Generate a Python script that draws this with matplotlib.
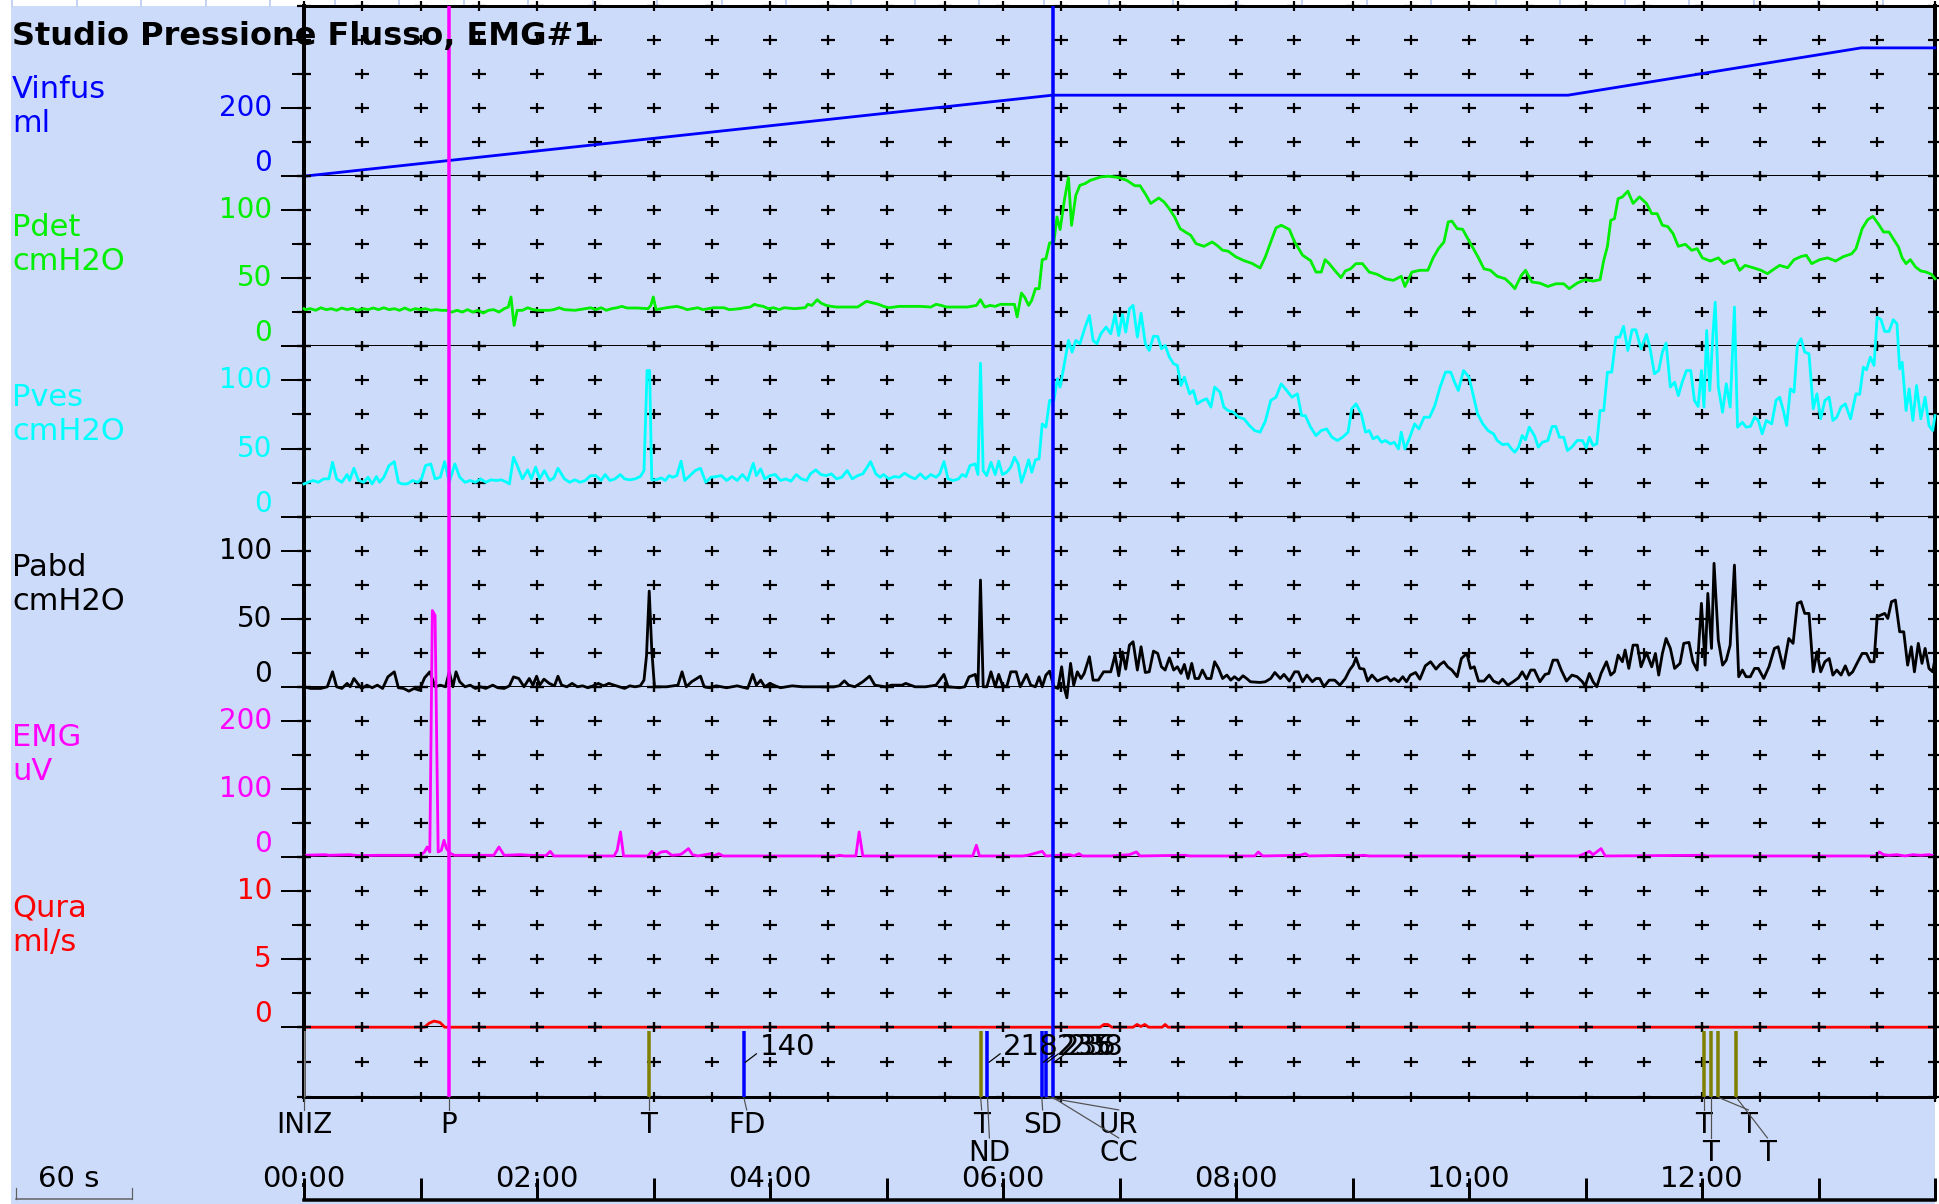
import numpy as np
import matplotlib
matplotlib.use("Agg")
import matplotlib.pyplot as plt
from matplotlib.path import Path
from matplotlib.patches import Rectangle
from matplotlib.lines import Line2D
import matplotlib.transforms as mtransforms

plt.rcParams['font.family'] = ['DejaVu Sans']

# ------------------------------------------------------------------ data
TITLE = "Studio Pressione Flusso, EMG#1"
CH_NAMES = ["Vinfus", "Pdet", "Pves", "Pabd", "EMG", "Qura"]
CH_UNITS = ["ml", "cmH2O", "cmH2O", "cmH2O", "uV", "ml/s"]
CH_COLORS = ['#0000FF', '#00EE00', '#00FFFF', '#000000', '#FF00FF', '#FF0000']
CH_YMAX = [500, 125, 125, 125, 250, 12.5]
CH_LABELED = [[0, 200], [0, 50, 100], [0, 50, 100], [0, 50, 100], [0, 100, 200], [0, 5, 10]]
CH_MINOR = [[100, 300, 400], [25, 75], [25, 75], [25, 75], [50, 150], [2.5, 7.5]]

VINF_T = [0, 385.5, 651, 802, 840]
VINF_V = [0, 238, 238, 377, 377]

PDET = [(0,27.7),(0.6,27.0),(3.3,27.7),(6.0,26.5),(8.7,28.4),(11.4,27.0),(14.1,27.7),(16.8,26.5),(19.5,28.2),(22.2,27.0),
(24.9,27.9),(27.6,26.5),(30.3,27.7),(33.0,27.0),(35.7,28.2),(38.4,27.0),(41.1,28.4),(43.8,27.0),(46.5,27.7),(49.2,26.5),
(51.9,28.2),(54.6,26.5),(57.3,27.7),(60.0,27.0),(62.6,27.7),(65.3,26.5),(68.0,27.0),(70.7,26.5),(73.4,26.5),(76.1,25.2),
(78.8,26.5),(81.5,25.2),(84.2,27.0),(86.9,25.2),(89.6,26.5),(92.3,24.5),(95.0,26.5),(97.7,27.0),(100.4,25.2),(103.1,27.7),
(105.2,28.9),(106.6,36.3),(108.2,15.4),(109.8,26.5),(112.5,26.5),(115.2,28.4),(117.9,27.0),(120.6,26.5),(126.0,26.5),
(128.7,27.0),(131.4,28.4),(134.1,27.0),(139.5,26.5),(144.9,27.7),(147.6,28.4),(150.3,27.0),(153.0,28.4),(155.7,26.5),
(158.4,27.7),(161.1,28.4),(163.7,29.4),(166.4,28.2),(171.8,28.2),(177.2,27.7),(178.6,30.1),(179.9,36.3),(181.3,27.0),
(186.7,28.4),(189.4,28.9),(192.0,29.4),(194.7,28.4),(197.4,27.0),(200.1,27.7),(202.8,28.4),(205.5,27.0),(210.9,28.4),
(216.3,28.4),(219.0,27.0),(224.4,27.7),(227.1,28.4),(229.8,28.9),(232.0,30.9),(233.8,30.1),(236.5,29.4),(239.2,27.7),
(241.9,28.4),(244.6,27.0),(247.3,28.4),(252.7,27.7),(258.1,28.4),(259.5,30.9),(261.6,30.1),(264.3,34.3),(266.2,31.9),
(268.9,30.1),(271.6,29.4),(274.3,28.9),(279.7,28.9),(285.1,28.9),(287.8,31.4),(289.7,33.1),(293.2,31.9),(295.9,30.9),
(298.5,29.4),(301.2,28.4),(303.9,28.9),(306.6,29.4),(312.0,29.4),(317.4,29.4),(322.8,28.9),(325.5,30.9),(328.2,30.1),
(330.9,28.9),(336.3,28.9),(341.7,28.9),(346.3,30.1),(348.4,34.3),(350.6,28.9),(353.3,30.1),(356.0,29.4),(358.7,30.9),
(364.0,30.9),(365.9,30.9),(367.3,21.6),(369.5,39.2),(371.3,35.8),(373.2,30.1),(374.8,33.8),(376.7,42.4),(378.6,42.4),
(380.2,63.7),(382.1,64.4),(384.0,76.0),(386.2,76.7),(387.8,95.1),(389.4,85.8),(391.6,107.3),(393.7,124.0),(395.3,88.9),
(397.5,111.0),(399.6,118.3),(402.3,119.6),(405.0,122.0),(407.7,123.2),(410.4,124.5),(414.5,125.0),
(419.6,124),(423.7,122),(427.9,118),(430.6,118),(433.3,112),(436.1,105),(440.2,109),(443.0,106),(445.7,101),(448.4,95),
(451.2,86.5),(453.9,84),(456.7,81.6),(459.4,75.5),(463.5,73.5),(467.7,76.7),(470.4,74),(473.1,70.6),(475.9,70),(480.0,65.7),
(484.1,63),(488.2,61),(492.4,57.6),(495.1,65.7),(497.9,76.7),(500.6,87),(503.3,89),(507.5,85.8),(510.2,76.7),(514.3,67),
(518.4,63),(521.2,54.6),(523.9,54.6),(525.9,63.7),(528.0,60.8),(530.8,55.9),(534.1,50.5),(536.3,55.4),(539.0,57),
(541.8,60.8),(545.1,60.8),(548.6,54.6),(552.8,52.9),(556.9,49.7),(561.0,48.5),(565.1,51.5),(567.0,44),(570.6,54.6),
(574.7,55.9),(578.8,55.9),(581.6,65.2),(584.3,71.8),(587.1,76.7),(589.3,91.4),(591.2,92),(593.9,86.5),(596.7,86),
(600.8,75.5),(604.9,65),(607.7,57),(611.0,55.9),(614.5,51.5),(618.6,49.7),(621.4,46),(623.6,42.4),(626.9,52),(629.1,55.9),
(632.4,47.3),(636.5,46.5),(640.6,44),(644.7,46),(648.8,46),(651.6,42.4),(655.7,46.5),(659.8,49),(663.9,48),(667.5,49),
(669.4,63.2),(671.3,73.5),(673.0,92.6),(674.9,93.8),(676.8,108.5),(679.0,109.8),(681.8,114),(684.5,105),(687.8,109.8),
(691.4,105),(694.1,97.5),(696.9,97.5),(699.6,89),(702.4,88),(705.1,82.8),(707.8,73.5),(711.4,75),(714.7,70.6),(717.5,71.8),
(720.2,65),(724.3,62.7),(728.4,65),(731.2,60.8),(733.9,62.7),(736.7,63.7),(739.4,55.9),(742.2,59.5),(746.3,57.8),
(750.4,55.9),(753.7,53.4),(757.3,57),(760.0,59.5),(764.1,57.8),(767.4,63.7),(771.0,66),(773.7,66.9),(776.5,60.8),
(780.6,63.7),(784.7,65),(788.8,62.7),(792.9,66),(797.1,68),(799.3,71.8),(802.5,86.5),(805.3,93),(808.0,95.5),(810.8,90),
(813.5,84),(816.3,84),(819.0,77.9),(821.2,73),(823.1,65),(825.1,60.8),(827.3,63.7),(830.0,58.3),(832.7,55.4),(835.5,54.6),
(838.2,52.9),(840.0,49.7)]

PVES = [(0,24.0),(2.0,25.2),(4.7,26.5),(7.4,25.2),(10.1,27.7),(12.8,27.7),(14.7,39.9),(16.8,27.7),(19.5,25.2),(22.2,30.9),
(23.5,26.5),(25.7,35.5),(28.1,26.5),(30.8,25.2),(33.0,28.9),(35.1,24.0),(37.3,29.4),(38.9,25.2),(41.1,28.9),(43.8,37.5),
(46.5,40.4),(48.6,25.2),(50.5,24.0),(53.2,24.0),(55.9,26.5),(58.6,25.2),(60.5,27.7),(62.6,37.5),(65.3,38.7),(67.5,27.7),
(70.2,28.9),(72.4,40.4),(74.8,25.2),(77.7,38.7),(80.2,28.9),(82.9,25.2),(85.6,26.5),(88.3,25.2),(91.0,27.7),(93.6,25.2),
(96.3,27.0),(99.0,26.5),(101.7,27.0),(104.4,25.2),(105.8,24.0),(107.9,43.6),(109.8,37.5),(112.5,27.7),(115.2,34.3),
(117.1,27.7),(119.3,36.3),(121.4,27.7),(123.8,33.8),(126.5,26.5),(128.7,28.4),(130.8,35.5),(134.1,27.7),(136.8,25.2),
(139.5,27.0),(142.2,25.2),(144.9,26.5),(147.6,30.1),(150.3,30.1),(153.0,26.5),(155.1,30.9),(157.5,26.5),(160.2,27.7),
(162.9,30.9),(165.1,27.7),(167.8,27.0),(170.5,27.7),(173.2,29.4),(175.1,33.8),(176.7,107.3),(178.0,107.3),(179.1,27.0),
(181.3,27.0),(184.0,28.4),(186.1,26.5),(188.0,30.1),(189.9,28.9),(192.0,30.1),(194.2,40.7),(196.1,26.5),(198.8,30.1),
(201.5,33.8),(204.2,35.5),(206.9,25.2),(209.6,28.9),(212.3,29.4),(215.0,30.1),(217.7,26.5),(220.4,29.4),(223.1,26.5),
(225.8,30.9),(228.5,26.5),(229.8,32.6),(231.4,39.2),(233.0,30.1),(235.2,35.0),(237.3,27.7),(240.0,30.1),(242.7,30.9),
(245.4,26.5),(248.1,27.7),(250.8,26.0),(253.5,30.9),(256.2,27.7),(258.9,26.5),(260.8,31.4),(263.5,34.3),(266.2,30.9),
(268.9,30.1),(271.6,31.4),(274.3,27.7),(277.0,28.9),(279.7,33.8),(282.4,27.7),(285.1,30.1),(287.8,31.4),(289.7,35.5),
(291.8,40.4),(294.5,31.4),(296.7,28.9),(298.5,30.9),(301.2,27.7),(303.9,29.4),(306.6,28.9),(309.3,31.9),(312.0,29.4),
(314.7,27.7),(317.4,31.4),(320.1,27.7),(322.8,30.9),(325.5,28.9),(327.4,31.4),(329.6,40.4),(331.7,27.7),(334.4,26.5),
(337.1,27.7),(339.0,30.9),(340.9,29.4),(343.0,37.5),(345.7,38.7),(347.1,30.9),(348.4,112.7),(349.8,33.8),(351.6,30.1),
(353.8,39.9),(356.0,30.9),(357.8,40.7),(359.7,30.9),(361.9,32.6),(364.0,36.3),(365.9,43.6),(367.8,38.7),(369.5,25.2),
(371.3,32.6),(373.2,41.7),(374.8,32.6),(376.7,41.7),(378.6,42.4),(380.2,68.1),(382.1,65.7),(384.0,85.3),(386.2,85.3),
(388.0,101.2),(389.4,95.1),(391.6,112.2),(393.7,129.4),(395.6,120.8),(397.5,129.4),(399.6,126.9),(402.3,139.2),
(404.5,147.7),(406.4,129.4),(408.3,126.9),(410.4,134.3),(413.1,139.2),
(415.5,134.3),(417.7,148.5),(419.6,133.0),(421.5,148.5),(423.2,135.5),(425.1,152.6),(427.0,155.1),(429.2,131.8),
(431.1,149.5),(433.3,126.9),(435.3,122.0),(437.5,132.5),(439.7,132.3),(441.6,123.2),(443.5,125.7),(445.7,117.1),
(447.9,112.2),(449.8,111.0),(451.7,96.3),(453.4,102.4),(456.1,90.2),(458.0,92.6),(460.0,82.8),(462.7,85.3),(464.9,86.5),
(467.1,80.4),(469.0,95.1),(471.8,91.4),(473.7,80.4),(475.9,77.9),(478.6,76.7),(481.4,73.0),(484.1,71.8),(486.9,66.9),
(489.6,63.2),(492.4,62.0),(495.1,70.1),(497.9,85.3),(500.6,87.7),(503.3,97.5),(506.1,92.6),(508.8,87.7),(511.6,90.2),
(513.8,74.2),(515.7,74.2),(518.4,65.7),(521.2,59.5),(523.9,63.2),(526.7,64.4),(529.4,58.3),(532.2,55.9),(534.9,58.3),
(537.7,62.0),(539.6,79.1),(541.8,82.8),(544.5,75.5),(546.7,62.0),(548.6,63.2),(550.6,57.1),(552.8,58.8),(555.0,54.6),
(556.9,55.9),(559.6,53.4),(561.5,54.6),(563.7,49.7),(565.1,62.0),(567.0,49.7),(569.2,57.1),(572.0,68.1),(574.2,64.4),
(576.9,73.0),(579.7,73.0),(582.4,81.6),(585.1,95.1),(587.9,106.1),(590.6,106.1),(592.6,98.7),(594.5,92.6),(597.2,107.3),
(600.0,102.4),(602.2,88.9),(604.4,75.5),(607.1,68.1),(609.8,63.2),(612.6,60.8),(614.5,55.9),(617.3,52.9),(620.0,53.4),
(621.9,49.7),(623.6,47.3),(625.5,51.0),(627.4,59.5),(629.1,56.4),(631.0,65.7),(633.7,59.5),(635.7,51.0),(637.8,54.6),
(640.6,55.9),(642.8,66.2),(644.7,66.2),(646.6,58.3),(648.8,58.3),(650.7,48.5),(652.9,51.0),(655.7,55.9),(658.4,55.9),
(660.4,50.5),(662.0,58.3),(663.9,52.2),(665.8,53.4),(667.5,77.9),(669.4,77.9),(671.3,106.1),(673.5,106.1),(675.7,131.8),
(677.6,131.8),(679.6,139.7),(681.8,122.0),(684.0,137.2),(685.9,137.2),(688.6,123.2),(691.4,133.8),(693.3,123.2),
(695.5,104.9),(697.7,107.3),(699.6,120.8),(701.5,127.4),(703.7,95.1),(705.9,98.7),(707.8,88.9),(709.8,98.7),(712.0,107.3),
(714.2,107.3),(716.1,85.3),(718.0,80.9),(719.7,107.3),(721.0,80.4),(722.4,136.7),(724.0,92.6),(725.7,135.5),(726.8,157.5),
(728.4,95.1),(730.6,76.7),(732.5,97.5),(734.5,80.4),(736.7,153.9),(738.3,65.7),(740.8,69.3),(742.7,65.7),(744.9,66.2),
(747.1,73.0),(749.0,70.6),(751.0,60.8),(753.1,70.6),(755.9,68.1),(758.1,85.3),(760.0,87.7),(761.9,77.9),(763.6,66.9),
(765.5,93.8),(767.4,91.4),(769.1,125.7),(771.0,130.6),(772.9,120.8),(775.1,119.6),(777.3,79.1),(779.2,90.2),(781.1,71.8),
(783.3,85.3),(785.5,87.7),(787.4,70.6),(789.4,73.0),(791.6,80.4),(793.8,82.8),(796.5,71.8),(799.3,90.2),(801.2,89.7),
(803.1,109.8),(804.7,107.8),(806.7,117.1),(808.6,111.0),(810.2,146.5),(812.2,144.6),(814.1,136.0),(816.3,136.0),
(818.5,144.6),(820.4,141.6),(821.8,108.5),(823.1,113.4),(825.1,77.9),(826.7,93.8),(828.6,70.6),(830.5,96.3),(832.7,71.8),
(834.9,87.7),(836.9,66.9),(838.8,63.2),(840.0,74.2)]

PABD = [(0,0),(3.3,-1.2),(8.7,-1.2),(12.0,0),(14.7,11.0),(16.8,0),(19.5,-1.2),(22.2,2.5),(23.8,0),(25.7,6.1),(27.6,2.5),
(29.7,-1.2),(32.4,1.2),(35.1,-0.7),(37.8,1.2),(40.5,-1.2),(43.2,7.3),(46.5,11.0),(48.6,-0.7),(51.3,-1.2),(54.0,-3.2),
(56.7,-1.2),(59.4,-2.5),(62.1,6.6),(64.8,11.0),(67.5,0),(70.2,1.2),(72.9,0),(74.8,11.0),(76.7,0),(78.3,11.0),(80.2,3.7),
(82.9,0),(85.6,1.2),(88.3,-1.2),(91.0,0),(93.6,-1.2),(97.2,1.2),(99.8,-0.7),(103.1,-1.2),(105.8,0.7),(107.9,7.3),
(110.6,6.1),(113.3,0),(116.0,6.1),(117.9,1.2),(119.8,7.8),(121.4,1.2),(123.6,5.6),(126.3,2.5),(129.0,0.7),(130.8,7.8),
(132.7,1.2),(135.4,0),(138.1,2.5),(140.8,0),(143.5,0.7),(146.2,-0.7),(148.9,0.7),(151.6,2.5),(154.3,0.7),(157.0,2.5),
(159.7,1.2),(162.4,0),(165.1,-1.2),(167.8,0.7),(170.5,0),(173.2,0.7),(175.1,4.9),(176.4,22.8),(177.8,70.3),(179.1,27.0),
(180.5,0),(186.7,0),(192.6,1.2),(194.7,11.0),(196.9,0),(199.6,3.7),(204.2,7.8),(206.1,0),(208.8,-0.7),(212.3,0.7),
(217.7,-0.7),(223.1,0.7),(228.5,-1.2),(231.1,9.1),(233.0,1.2),(235.2,4.9),(237.3,0),(240.0,2.5),(242.7,0.7),(245.4,-0.7),
(251.4,0.7),(256.8,0),(262.1,0),(267.5,0),(272.9,0),(275.6,0.7),(278.3,4.4),(280.5,1.2),(283.7,0),(287.8,3.7),(291.3,7.8),
(294.0,1.2),(299.4,0),(302.6,1.2),(308.0,1.2),(309.9,2.5),(314.7,0),(320.1,0),(325.5,1.2),(327.4,4.9),(329.6,9.1),
(331.7,0),(337.6,-0.7),(340.3,0),(342.5,7.3),(345.7,9.1),(347.1,0),(348.4,78.4),(349.8,0),(351.7,0),(353.8,11.0),(356.0,0),
(357.8,9.1),(359.7,1.2),(361.9,0),(364.0,11.0),(366.8,11.0),(368.9,0),(372.1,9.1),(374.3,1.2),(376.7,0),(378.6,7.3),
(380.2,0),(382.1,8.6),(384.0,11.5),(386.2,0),(388.3,-1.2),(390.2,14.7),(391.6,-1.2),(392.9,-8.1),(394.8,17.2),(396.4,1.2),
(398.3,11.0),(400.2,6.1),(401.8,9.8),(404.5,22.1),(406.4,4.9),(409.1,4.9),(411.8,11.0),
(415.5,11.0),(417.7,23.3),(419.6,8.1),(421.5,25.7),(423.2,13.0),(425.1,30.6),(427.0,33.1),(429.2,12.3),(431.1,29.4),
(433.3,10.5),(435.3,11.0),(437.5,26.2),(439.7,24.5),(441.6,14.7),(443.5,12.3),(445.7,21.3),(447.9,12.3),(449.8,14.7),
(451.7,9.8),(453.4,16.4),(455.3,6.1),(457.2,17.2),(458.9,6.1),(460.8,6.1),(462.7,12.3),(464.9,6.1),(467.1,6.1),(469.0,18.4),
(471.0,13.5),(473.1,6.1),(475.3,8.6),(477.3,4.9),(479.2,7.4),(481.4,4.9),(483.6,8.1),(485.5,6.1),(487.4,3.7),(492.4,3.2),
(495.1,3.7),(497.9,6.1),(500.0,10.5),(502.8,6.1),(504.7,9.1),(507.5,4.2),(510.2,11.0),(512.1,11.0),(514.3,3.7),(516.5,8.6),
(519.3,3.7),(521.2,6.1),(523.1,6.1),(525.3,0),(528.0,4.9),(530.8,4.9),(533.5,1.2),(536.3,6.1),(538.5,12.3),(540.4,16.0),
(541.8,21.3),(543.7,13.5),(545.9,13.0),(547.8,4.2),(550.0,8.6),(552.8,4.2),(555.5,6.1),(557.7,7.4),(559.6,4.2),(561.5,6.1),
(563.7,3.7),(565.9,7.4),(567.8,3.7),(569.8,8.6),(572.5,10.5),(574.7,5.6),(577.5,15.4),(580.2,18.4),(583.0,13.0),(585.1,16.4),
(587.1,18.4),(589.0,14.7),(591.2,12.3),(593.9,7.4),(596.1,20.8),(598.9,24.5),(600.8,13.5),(602.7,14.7),(604.9,4.2),
(607.7,4.2),(610.4,8.6),(612.6,4.2),(615.3,2.5),(617.3,5.6),(620.0,1.2),(622.7,3.7),(625.5,6.6),(627.4,11.0),(629.6,5.6),
(631.8,12.3),(633.7,12.3),(636.5,3.7),(639.2,9.1),(641.1,9.8),(643.3,19.6),(645.5,19.6),(647.5,12.3),(650.2,4.2),(653.0,8.6),
(655.7,7.4),(658.4,3.7),(659.8,0.5),(662.0,9.8),(663.9,3.7),(665.8,0),(668.0,9.8),(670.8,18.4),(673.0,8.6),(674.9,11.0),
(676.8,23.3),(679.0,18.4),(680.4,27.0),(682.3,13.5),(684.5,30.6),(686.7,30.6),(688.6,14.7),(691.4,25.2),(694.1,14.7),
(696.0,24.5),(697.7,8.6),(699.6,24.5),(701.5,35.5),(703.7,28.2),(705.9,13.5),(708.7,17.2),(710.6,31.9),(713.3,32.6),
(715.3,18.4),(717.5,12.3),(719.7,61.3),(721.6,15.9),(723.0,68.6),(724.9,28.2),(726.2,90.7),(728.4,34.3),(730.6,15.9),
(732.5,19.6),(734.5,30.6),(736.7,89.4),(738.9,7.4),(740.8,12.3),(742.7,7.4),(744.9,7.4),(747.1,13.5),(749.0,13.5),
(751.8,6.1),(754.5,14.7),(757.3,28.2),(759.2,29.4),(761.9,13.5),(764.7,35.5),(766.9,31.9),(769.1,61.3),(771.0,62.5),
(772.9,53.9),(775.1,53.9),(777.3,11.0),(779.2,25.7),(781.1,11.0),(783.3,18.4),(785.5,20.8),(787.4,8.6),(789.4,12.3),
(791.6,8.6),(793.8,15.4),(795.7,8.6),(797.6,11.0),(799.8,17.2),(802.5,24.5),(804.7,24.5),(806.7,18.4),(808.6,18.4),
(810.2,51.5),(812.2,52.7),(814.1,53.9),(815.7,50.2),(817.6,62.5),(819.6,63.7),(821.8,40.4),(823.9,40.4),(825.9,15.9),
(827.8,29.4),(829.4,11.0),(831.4,31.9),(833.3,17.2),(834.9,28.2),(836.9,13.5),(838.8,11.0),(840.0,20.8)]

EMG = [(0,2.5),(10.9,3.4),(12.8,2.5),(23.5,3.4),(27.6,2.0),(38.4,2.5),(60.0,2.5),(62.1,7.4),(63.4,14.7),(64.8,7.4),
(66.1,362),(67.5,355),(69.1,7.4),(70.7,9.8),(72.1,24.5),(73.4,12.3),(75.6,4.9),(77.5,2.5),(97.7,2.5),(100.4,14.7),
(103.1,2.5),(111.2,3.4),(116.6,2.5),(124.6,2.0),(126.8,8.3),(128.7,1.5),(159.7,1.5),(161.3,10),(163.0,36.8),(164.6,1.5),
(177.2,1.5),(179.1,8.3),(181.3,2.5),(184.0,7.4),(186.7,8.3),(189.4,2.5),(193.4,3.4),(194.7,4.9),(198.0,12.3),(200.1,3.4),
(202.8,1.5),(209.6,4.9),(210.9,1.5),(213.6,4.9),(215.8,1.5),(274.3,1.5),(275.6,2.5),(278.3,1.5),(284.2,1.5),(285.9,36.8),
(287.8,1.5),(344.4,1.5),(346.3,17.2),(347.9,1.5),(370.0,1.5),(372.7,2.5),(380.2,8.3),(382.1,1.5),(394.3,3.4),(396.4,1.5),
(399.1,4.9),(401.0,1.5),(415.5,1.5),(425.1,3.4),(428.7,7.4),(430.6,1.5),(453.9,2.5),(456.1,1.5),(489.6,1.5),(491.5,7.4),
(493.7,1.5),(513.0,2.5),(515.7,4.9),(517.6,1.5),(537.7,2.5),(540.4,1.5),(545.9,2.5),(548.6,1.5),(656.5,1.5),(658.4,3.4),
(662.0,8.3),(663.9,3.4),(668.0,12.3),(670.2,1.5),(720.2,2.5),(722.4,1.5),(809.4,1.5),(811.3,7.4),(813.5,3.4),(816.3,2.5),
(820.4,3.4),(824.5,1.5),(828.6,3.4),(832.7,2.5),(836.9,3.4),(840.0,1.5)]

QURA = [(0,0),(62,0),(64.5,0.3),(67,0.45),(70,0.35),(72.5,0),(410,0),(412,0.2),(414,0.2),(416,0),(427,0),(429,0.2),
(431,0.05),(433,0.2),(435,0),(442,0),(443.5,0.2),(445,0),(840,0)]

EV_NAMES = ["INIZ", "P", "T", "FD", "T", "ND", "SD", "UR", "CC", "T", "T", "T", "T"]
EV_TIMES = [0, 74.7, 177.7, 226.5, 348.5, 352.0, 380.0, 382.0, 385.5, 721.0, 724.5, 728.3, 737.6]
EV_VOLUMES = [None, None, None, "140", None, "218", "235", "236", "238", None, None, None, None]
EV_COLORS = ['#808080', '#FF00FF', '#808000', '#0000FF', '#808000', '#0000FF', '#0000FF', '#0000FF', '#0000FF',
             '#808000', '#808000', '#808000', '#808000']
EV_LABEL_T = [0, 74.7, 177.7, 228.0, 349.0, 353.0, 380.4, 419.6, 419.6, 721.0, 724.5, 743.9, 753.7]
EV_ROW = [1, 1, 1, 1, 1, 2, 1, 1, 2, 1, 2, 1, 2]

TIME_LABEL_POS = [0, 120, 240, 360, 480, 600, 720]
TIME_LABELS = ["00:00", "02:00", "04:00", "06:00", "08:00", "10:00", "12:00"]
T_MAX = 840

# ------------------------------------------------------------------ layout
W, H, DPI = 1939, 1204, 100
PX = 72.0 / DPI
BG = '#CDDBFA'
fig = plt.figure(figsize=(W / DPI, H / DPI), dpi=DPI)
fig.patch.set_facecolor('white')


def fx(x):
    return x / W


def fy(y):
    return 1.0 - y / H


fig.add_artist(Rectangle((fx(11), 0), fx(1935) - fx(11), fy(6), transform=fig.transFigure,
                         facecolor=BG, edgecolor='none', zorder=-20))
for xb in np.arange(12, W, 64.5):
    fig.add_artist(Line2D([fx(xb), fx(xb)], [fy(0), fy(6)], transform=fig.transFigure,
                          color='#C4D2F4', lw=2 * PX, zorder=-19))

X0, X1 = 304.0, 1935.0
PANEL_TOP = 6.0
PH = 170.2
EV_TOP = PANEL_TOP + 6 * PH
EV_BOT = 1097.3

FS_TICK = 20
FS_NAME = 22
FS_EVENT = 20
FS_TIME = 21
FS_TITLE = 23

cross = Path([(-1, 0), (1, 0), (0, -0.75), (0, 0.75)],
             [Path.MOVETO, Path.LINETO, Path.MOVETO, Path.LINETO])
grid_t = np.arange(0, T_MAX + 1, 30)


def add_px_axes(top, bottom):
    return fig.add_axes([fx(X0), fy(bottom), fx(X1) - fx(X0), (bottom - top) / H])


def style_axes(ax, ymax, levels):
    ax.set_xlim(0, T_MAX)
    ax.set_ylim(0, ymax)
    ax.set_facecolor('none')
    for s in ('top', 'bottom'):
        ax.spines[s].set_visible(False)
    for s in ('left', 'right'):
        ax.spines[s].set_linewidth(4 * PX)
        ax.spines[s].set_color('black')
    ax.set_xticks([])
    gx, gy = np.meshgrid(grid_t, levels)
    ax.plot(gx.ravel(), gy.ravel(), ls='none', marker=cross, ms=14 * PX, mew=2.2 * PX,
            color='black', transform=ax.get_xaxis_transform(), clip_on=False, zorder=1)


P_T = EV_TIMES[EV_NAMES.index("P")]
CC_T = EV_TIMES[EV_NAMES.index("CC")]

series = [(VINF_T, VINF_V)] + [tuple(zip(*s)) for s in (PDET, PVES, PABD, EMG, QURA)]

axes = []
for i in range(6):
    top = PANEL_TOP + i * PH
    ax = add_px_axes(top, top + PH)
    axes.append(ax)
    col = CH_COLORS[i]
    style_axes(ax, CH_YMAX[i], np.linspace(0, 1, 6))
    ax.set_yticks(CH_LABELED[i])
    ax.set_yticks(CH_MINOR[i], minor=True)
    ax.tick_params(axis='y', which='major', direction='out', length=23 * PX, width=2 * PX,
                   labelleft=False, left=True, right=False)
    ax.tick_params(axis='y', which='minor', direction='out', length=12 * PX, width=2 * PX,
                   left=True, right=False)
    ax.axhline(0, color='black', lw=2 * PX, zorder=1.5)
    if i == 0:
        ax.spines['top'].set_visible(True)
        ax.spines['top'].set_linewidth(3 * PX)
    t, v = series[i]
    ax.plot(t, v, color=col, lw=2.8 * PX, clip_on=False, zorder=3, solid_joinstyle='round')
    # tick labels
    for val in CH_LABELED[i]:
        tr = ax.get_yaxis_transform()
        if val == 0:
            tr = tr + mtransforms.ScaledTranslation(0, 13 / DPI, fig.dpi_scale_trans)
        ax.text(-32 / (X1 - X0), val, str(val), transform=tr, ha='right', va='center',
                color=col, fontsize=FS_TICK, clip_on=False)
    # channel names
    ycen = top + 51 if i > 0 else 89
    fig.text(fx(12), fy(ycen), CH_NAMES[i], ha='left', va='center', color=col, fontsize=FS_NAME)
    fig.text(fx(12), fy(ycen + 34), CH_UNITS[i], ha='left', va='center', color=col, fontsize=FS_NAME)
    ax.axvline(P_T, color='#FF00FF', lw=3.5 * PX, zorder=4)
    ax.axvline(CC_T, color='#0000FF', lw=3.5 * PX, zorder=4)

# event panel
axe = add_px_axes(EV_TOP, EV_BOT)
style_axes(axe, 1, [0, 0.5, 1])
axe.set_yticks([])
axe.spines['bottom'].set_visible(True)
axe.spines['bottom'].set_linewidth(3 * PX)
tr_ev = axe.get_xaxis_transform()
ROW_LABEL_Y = {1: -0.40, 2: -0.80}
ROW_LEAD_Y = {1: -0.18, 2: -0.58}
for name, t, col, lt, row, vol in zip(EV_NAMES, EV_TIMES, EV_COLORS, EV_LABEL_T, EV_ROW, EV_VOLUMES):
    if name in ("P", "CC"):
        axe.axvline(t, color=col, lw=3.5 * PX, zorder=4)
    else:
        axe.vlines(t, 0, 0.95, color=col, lw=3.5 * PX, zorder=4)
    axe.plot([t, lt], [0, ROW_LEAD_Y[row]], color='#505050', lw=1.2 * PX, transform=tr_ev,
             clip_on=False, zorder=3)
    axe.text(lt, ROW_LABEL_Y[row], name, transform=tr_ev, ha='center', va='center',
             fontsize=FS_EVENT, color='black', clip_on=False)
    if vol is not None:
        axe.plot([t + 0.8, t + 6.5], [0.5, 0.62], color='black', lw=1.2 * PX, transform=tr_ev,
                 clip_on=False, zorder=5)
        axe.text(t + 8.0, 0.72, vol, transform=tr_ev, ha='left', va='center', fontsize=FS_EVENT + 1,
                 color='black', clip_on=False, zorder=6)

# title
fig.text(fx(12), fy(36), TITLE, ha='left', va='center', fontsize=FS_TITLE, fontweight='bold', color='black')

# time axis
axt = fig.add_axes([fx(X0), fy(1200), fx(X1) - fx(X0), 22 / H])
axt.set_xlim(0, T_MAX)
axt.set_ylim(0, 1)
axt.set_facecolor('none')
for s in ('top', 'left', 'right'):
    axt.spines[s].set_visible(False)
axt.spines['bottom'].set_linewidth(3.5 * PX)
axt.set_xticks(np.arange(0, T_MAX + 1, 60))
axt.tick_params(axis='x', direction='in', length=22 * PX, width=3 * PX, labelbottom=False)
axt.set_yticks([])
for pos, lab in zip(TIME_LABEL_POS, TIME_LABELS):
    axt.text(pos, 0.95, lab, ha='center', va='center', fontsize=FS_TIME, clip_on=False)
# 60 s scale bar
axt.plot([-148.5, -88.5], [0.05, 0.05], color='#606060', lw=1.5 * PX, clip_on=False)
axt.plot([-148.5, -148.5], [0.05, 0.55], color='#606060', lw=1.2 * PX, clip_on=False)
axt.plot([-88.5, -88.5], [0.05, 0.55], color='#606060', lw=1.2 * PX, clip_on=False)
axt.text(-121, 0.95, "60 s", ha='center', va='center', fontsize=FS_TIME, clip_on=False)

fig.savefig("out.png", dpi=DPI, facecolor='white')
